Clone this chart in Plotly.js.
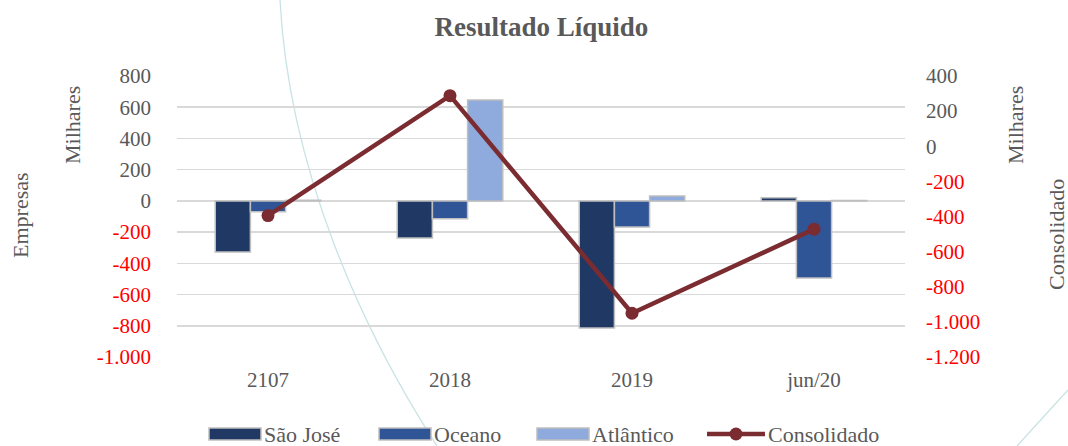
<!DOCTYPE html>
<html><head><meta charset="utf-8">
<script src="https://cdn.plot.ly/plotly-3.0.1.min.js"></script>
<style>html,body{margin:0;padding:0;background:#fff;}#chart{width:1068px;height:446px;}</style>
</head><body><div id="chart"></div>
<script>
var categories = ['2107', '2018', '2019', 'jun/20'];
var saoJose = [-327, -237, -814, 20];
var oceano = [-70, -115, -167, -494];
var atlantico = [4, 647, 32, 3];
var consolidado = [-395, 288, -951, -472];
var leftTicks = [800, 600, 400, 200, 0, -200, -400, -600, -800, -1000];
var rightTicks = [400, 200, 0, -200, -400, -600, -800, -1000, -1200];
var seriesNames = ['São José', 'Oceano', 'Atlântico', 'Consolidado'];
var seriesColors = ['#203864', '#2f5597', '#8faadc', '#7b2c31'];

function fmt(v) {
  var s = Math.abs(v).toString().replace(/\B(?=(\d{3})+(?!\d))/g, '.');
  return v < 0 ? '<span style="color:#ff0000">-' + s + '</span>' : s;
}
var font = '"Liberation Serif", "Times New Roman", serif';
var gray = '#595959';
var outline = {color: '#bfbfbf', width: 1.5};
var numFont = {family: font, size: 21, color: gray};
var wordFont = {family: font, size: 22, color: gray};

var traces = [
  {type: 'bar', name: seriesNames[0], x: categories, y: saoJose, marker: {color: seriesColors[0], line: outline}},
  {type: 'bar', name: seriesNames[1], x: categories, y: oceano, marker: {color: seriesColors[1], line: outline}},
  {type: 'bar', name: seriesNames[2], x: categories, y: atlantico, marker: {color: seriesColors[2], line: outline}},
  {type: 'scatter', mode: 'lines+markers', name: seriesNames[3], x: categories, y: consolidado, yaxis: 'y2',
   line: {color: seriesColors[3], width: 4.5}, marker: {color: seriesColors[3], size: 13}}
];

// plot area in pixels: x 177..905, y 76..357
var PL = 177, PW = 728, PT = 76, PH = 281;
function px(x) { return (x - PL) / PW; }
function py(y) { return (PT + PH - y) / PH; }

var shapes = [
  {type: 'path', xref: 'paper', yref: 'paper', layer: 'below',
   path: 'M ' + px(280) + ',' + py(0) + ' C ' + px(289) + ',' + py(170) + ' ' + px(362) + ',' + py(330) + ' ' + px(437) + ',' + py(446),
   line: {color: '#c9e3e3', width: 1.3}},
  {type: 'path', xref: 'paper', yref: 'paper', layer: 'below',
   path: 'M ' + px(1017) + ',' + py(446) + ' L ' + px(1068) + ',' + py(390),
   line: {color: '#c9e3e3', width: 1.3}}
];
var annotations = [
  {text: 'Milhares', x: px(72), y: py(125)},
  {text: 'Empresas', x: px(20), y: py(215)},
  {text: 'Milhares', x: px(1015), y: py(125)},
  {text: 'Consolidado', x: px(1056), y: py(235)}
].map(function (a) {
  return {text: a.text, xref: 'paper', yref: 'paper', x: a.x, y: a.y, xanchor: 'center', yanchor: 'middle',
          textangle: -90, showarrow: false, font: wordFont};
});

// custom legend (symbol boxes + labels)
var legendX = [208, 378, 536, 707];
var legendY = 434;
for (var i = 0; i < 4; i++) {
  if (i < 3) {
    shapes.push({type: 'rect', xref: 'paper', yref: 'paper', x0: px(legendX[i] + 1), x1: px(legendX[i] + 53),
                 y0: py(legendY + 6), y1: py(legendY - 6), fillcolor: seriesColors[i], line: outline});
  } else {
    shapes.push({type: 'line', xref: 'paper', yref: 'paper', x0: px(legendX[i]), x1: px(legendX[i] + 58),
                 y0: py(legendY), y1: py(legendY), line: {color: seriesColors[i], width: 4.5}});
    shapes.push({type: 'circle', xref: 'paper', yref: 'paper', x0: px(legendX[i] + 22.5), x1: px(legendX[i] + 35.5),
                 y0: py(legendY + 6.5), y1: py(legendY - 6.5), fillcolor: seriesColors[i], line: {width: 0}});
  }
  annotations.push({text: seriesNames[i], xref: 'paper', yref: 'paper', x: px(legendX[i] + (i < 3 ? 54 : 59)), y: py(legendY),
                    xanchor: 'left', yanchor: 'middle', showarrow: false, font: wordFont});
}

var layout = {
  width: 1068, height: 446,
  margin: {l: PL, r: 1068 - PL - PW, t: PT, b: 446 - PT - PH, autoexpand: false},
  paper_bgcolor: '#fff', plot_bgcolor: 'rgba(0,0,0,0)',
  font: {family: font, color: gray, size: 21},
  title: {text: '<b>Resultado Líquido</b>', x: 0.507, xanchor: 'center', y: 0.94, yanchor: 'middle',
          font: {family: font, size: 27, color: gray}},
  barmode: 'group', bargap: 0.42, bargroupgap: 0,
  showlegend: false,
  xaxis: {type: 'category', showgrid: false, showline: false, ticks: '', zeroline: false,
          tickfont: numFont, ticklabelstandoff: 8},
  yaxis: {range: [-1000, 800], tickvals: leftTicks, ticktext: leftTicks.map(fmt),
          showgrid: true, gridcolor: '#d9d9d9', gridwidth: 1.5, zeroline: false, showline: false,
          ticks: '', ticklen: 0, tickfont: numFont, ticklabelstandoff: 25},
  yaxis2: {range: [-1200, 400], tickvals: rightTicks, ticktext: rightTicks.map(fmt),
           overlaying: 'y', side: 'right', showgrid: false, zeroline: false, showline: false,
           ticks: '', tickfont: numFont, ticklabelstandoff: 20},
  annotations: annotations,
  shapes: shapes
};
Plotly.newPlot('chart', traces, layout, {displayModeBar: false, staticPlot: true});
</script></body></html>
